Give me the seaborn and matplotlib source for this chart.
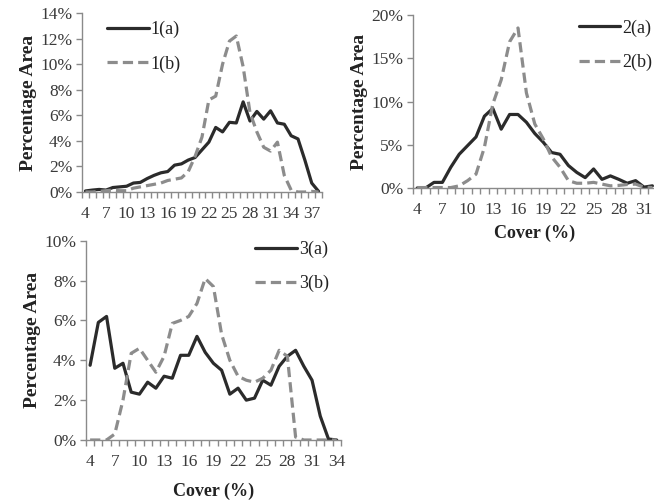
import numpy as np
import pandas as pd
import matplotlib
matplotlib.use("Agg")
import matplotlib.pyplot as plt
from matplotlib.ticker import FuncFormatter, MultipleLocator
import seaborn as sns

# ---- data ----
cover1 = list(range(4, 39))
p1a = [0.08, 0.15, 0.2, 0.15, 0.35, 0.4, 0.45, 0.7, 0.75, 1.05, 1.3, 1.5, 1.6, 2.1, 2.2, 2.5,
       2.7, 3.3, 3.9, 5.05, 4.7, 5.45, 5.4, 7.05, 5.55, 6.3, 5.7, 6.35, 5.4, 5.3, 4.4, 4.15,
       2.5, 0.7, 0.05]
p1b = [0.0, 0.0, 0.05, 0.1, 0.15, 0.1, 0.1, 0.3, 0.4, 0.5, 0.6, 0.7, 0.9, 1.0, 1.1, 1.6,
       2.8, 4.3, 7.2, 7.5, 10.0, 11.8, 12.2, 9.8, 6.2, 4.7, 3.5, 3.2, 3.9, 1.3, 0.15, 0.0,
       0.0, 0.05, 0.0]

cover2 = list(range(4, 33))
p2a = [0.0, 0.0, 0.65, 0.65, 2.4, 3.9, 4.9, 5.9, 8.3, 9.2, 6.8, 8.5, 8.5, 7.6, 6.3, 5.3,
       4.1, 3.9, 2.6, 1.8, 1.2, 2.2, 1.0, 1.4, 1.0, 0.55, 0.85, 0.1, 0.25]
p2b = [0.05, 0.05, 0.05, 0.05, 0.05, 0.25, 0.85, 1.6, 4.7, 9.7, 12.5, 16.9, 18.5, 11.0,
       7.4, 5.7, 3.6, 2.4, 0.85, 0.55, 0.55, 0.65, 0.45, 0.25, 0.3, 0.4, 0.45, 0.1, 0.05]

cover3 = list(range(4, 35))
p3a = [3.75, 5.9, 6.2, 3.6, 3.85, 2.4, 2.3, 2.9, 2.6, 3.2, 3.1, 4.25, 4.25, 5.2, 4.4, 3.85,
       3.5, 2.3, 2.6, 2.0, 2.1, 3.0, 2.75, 3.7, 4.2, 4.5, 3.7, 3.0, 1.2, 0.05, 0.0]
p3b = [0.0, 0.0, 0.0, 0.3, 2.0, 4.35, 4.6, 4.0, 3.4, 4.2, 5.85, 6.0, 6.2, 6.85, 8.1, 7.7,
       5.3, 4.0, 3.2, 3.0, 2.9, 3.1, 3.5, 4.5, 4.2, 0.15, 0.0, 0.0, 0.0, 0.0, 0.0]

panels = [
    dict(x=cover1, a=p1a, b=p1b, names=("1(a)", "1(b)"), ymax=14, ystep=2,
         xlim=(3.5, 38.5), pos=[82/654, 1-192/503, 240/654, 179/503],
         leg=(0.105, 0.955), xlabel=None, xlpad=6),
    dict(x=cover2, a=p2a, b=p2b, names=("2(a)", "2(b)"), ymax=20, ystep=5,
         xlim=(3.5, 32.5), pos=[413/654, 1-188/503, 243.6/654, 173/503],
         leg=(0.68, 0.975), xlabel="Cover (%)", xlpad=5),
    dict(x=cover3, a=p3a, b=p3b, names=("3(a)", "3(b)"), ymax=10, ystep=2,
         xlim=(3.5, 34.5), pos=[86/654, 1-440/503, 254.8/654, 199.3/503],
         leg=(0.665, 1.0), xlabel="Cover (%)", xlpad=9),
]

sns.set_theme(style="white")
plt.rcParams['font.family'] = ['Liberation Serif', 'DejaVu Serif']

fig = plt.figure(figsize=(6.54, 5.03), dpi=100)
axis_col = "#8a8a8a"
text_col = "#3a3a3a"

for p in panels:
    ax = fig.add_axes(p["pos"])
    df = pd.DataFrame({"x": p["x"] * 2,
                       "y": list(p["a"]) + list(p["b"]),
                       "s": [p["names"][0]] * len(p["x"]) + [p["names"][1]] * len(p["x"])})
    sns.lineplot(data=df, x="x", y="y", hue="s", style="s",
                 palette=["#2b2b2b", "#8c8c8c"],
                 dashes=[(None, None), (3.2, 1.6)], linewidth=2.3, ax=ax)
    ax.set_xlim(*p["xlim"])
    ax.set_ylim(0, p["ymax"])
    ax.yaxis.set_major_locator(MultipleLocator(p["ystep"]))
    ax.yaxis.set_major_formatter(FuncFormatter(lambda v, _: f"{v:.0f}%"))
    xt = [t for t in range(p["x"][0], p["x"][-1] + 1, 3)]
    ax.set_xticks(xt)
    ax.set_xticklabels([str(t) for t in xt])
    ax.set_xticks(np.arange(p["xlim"][0], p["xlim"][1] + 0.01, 1.0), minor=True)
    for s in ("top", "right"):
        ax.spines[s].set_visible(False)
    for s in ("left", "bottom"):
        ax.spines[s].set_color(axis_col)
        ax.spines[s].set_linewidth(1.0)
    ax.tick_params(axis="y", which="major", direction="out", length=4, width=1,
                   color=axis_col, labelsize=12.5, labelcolor=text_col, pad=3, left=True)
    ax.tick_params(axis="x", which="major", length=0, labelsize=12.5,
                   labelcolor=text_col, pad=10, bottom=True)
    ax.tick_params(axis="x", which="minor", direction="out", length=4, width=1,
                   color=axis_col, bottom=True)
    ax.set_ylabel("Percentage Area", fontsize=14, fontweight="bold", color="#222222",
                  labelpad=2)
    if p["xlabel"]:
        ax.set_xlabel(p["xlabel"], fontsize=13, fontweight="bold", color="#222222",
                      labelpad=p["xlpad"])
    else:
        ax.set_xlabel("")
    leg = ax.legend(loc="upper left", bbox_to_anchor=p["leg"], frameon=False,
                    fontsize=13, handlelength=2.3, handletextpad=0.1,
                    labelspacing=0.95, borderpad=0, borderaxespad=0)
    for t in leg.get_texts():
        t.set_color("#222222")

fig.savefig("out.png", dpi=100)
